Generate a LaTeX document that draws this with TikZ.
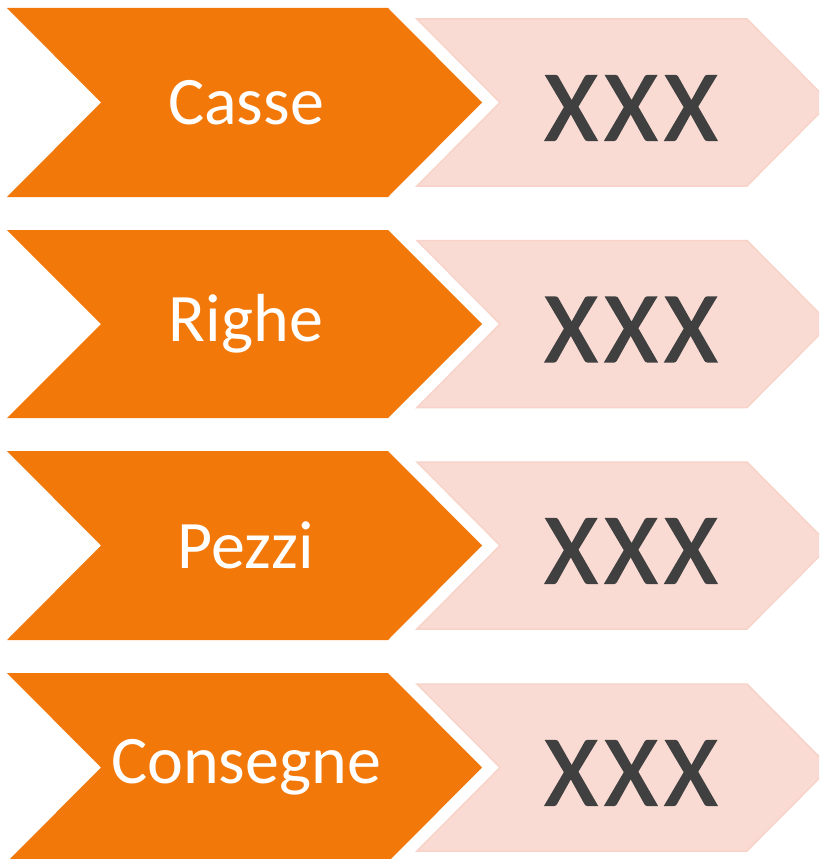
\documentclass[tikz,border=0pt]{standalone}
\usepackage{fontspec}
\setmainfont{Carlito}
\newfontfamily\valorefont[FakeBold=2,LetterSpace=8]{Carlito}
\definecolor{arancio}{HTML}{F2780A}
\definecolor{rosa}{HTML}{FADBD3}
\definecolor{rosabordo}{HTML}{F8D3C9}
\definecolor{grigio}{HTML}{404040}
\begin{document}
\begin{tikzpicture}[x=1pt, y=-1pt,
  fase/.style={fill=arancio, draw=none},
  valore/.style={fill=rosa, draw=rosabordo, line width=1.5pt, line join=miter},
  testofase/.style={text=white, font=\fontsize{68}{80}\selectfont, inner sep=0pt},
  testovalore/.style={text=grigio, font=\valorefont\fontsize{100}{118}\selectfont, inner sep=0pt}]
\useasboundingbox (0,0) rectangle (819,859);
\clip (0,0) rectangle (819,859);
% riga 1
\fill[fase] (7,8) -- (388,8) -- (482,102.5) -- (388,197) -- (7,197) -- (101,102.5) -- cycle;
\draw[valore] (417,19) -- (747,19) -- (830,102.5) -- (747,186) -- (417,186) -- (500,102.5) -- cycle;
\node[testofase] (F_1) at (246,102.5) {Casse};
\node[testovalore] (V_1) at (631,108) {XXX};
% riga 2
\fill[fase] (7,230) -- (388,230) -- (482,324) -- (388,418) -- (7,418) -- (101,324) -- cycle;
\draw[valore] (417,240.5) -- (747,240.5) -- (830,324) -- (747,407.5) -- (417,407.5) -- (500,324) -- cycle;
\node[testofase] (F_2) at (246,324) {Righe};
\node[testovalore] (V_2) at (631,329.5) {XXX};
% riga 3
\fill[fase] (7,451) -- (388,451) -- (482,545.5) -- (388,640) -- (7,640) -- (101,545.5) -- cycle;
\draw[valore] (417,462) -- (747,462) -- (830,545.5) -- (747,629) -- (417,629) -- (500,545.5) -- cycle;
\node[testofase] (F_3) at (246,545.5) {Pezzi};
\node[testovalore] (V_3) at (631,551) {XXX};
% riga 4
\fill[fase] (7,673) -- (388,673) -- (482,767.5) -- (388,862) -- (7,862) -- (101,767.5) -- cycle;
\draw[valore] (417,684) -- (747,684) -- (830,767.5) -- (747,851) -- (417,851) -- (500,767.5) -- cycle;
\node[testofase] (F_4) at (246,767.5) {Consegne};
\node[testovalore] (V_4) at (631,773) {XXX};
\end{tikzpicture}
\end{document}
